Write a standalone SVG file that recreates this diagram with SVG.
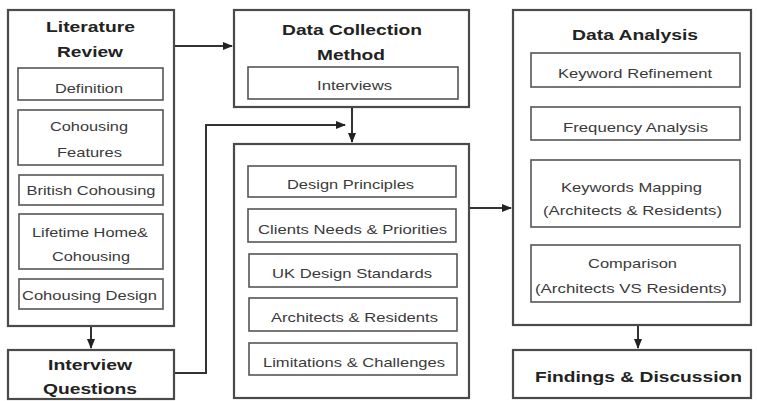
<svg xmlns="http://www.w3.org/2000/svg" width="757" height="401" viewBox="0 0 757 401">
<defs>
<marker id="ah" markerWidth="10" markerHeight="10" refX="9" refY="5" orient="auto" markerUnits="userSpaceOnUse">
<path d="M0,1 L10,5 L0,9 Z" fill="#222"/>
</marker>
</defs>
<style>
.outer{fill:#fff;stroke:#4a4a4a;stroke-width:2.2}
.shadow{fill:none;stroke:#bbb;stroke-width:2}
.inner{fill:#fff;stroke:#555;stroke-width:1.6}
.t{font-family:"Liberation Sans",Arial,sans-serif;font-weight:bold;font-size:15px;fill:#222;text-anchor:middle}
.s{font-family:"Liberation Sans",Arial,sans-serif;font-size:13.5px;fill:#3a3a3a;text-anchor:middle}
.c{fill:none;stroke:#333;stroke-width:2}
</style>
<rect width="757" height="401" fill="#fff"/>
<g id="connectors">
<line class="c" x1="175" y1="46" x2="232" y2="46" marker-end="url(#ah)"/>
<line class="c" x1="91" y1="326" x2="91" y2="348" marker-end="url(#ah)"/>
<polyline class="c" points="175,373 206,373 206,125 345,125" marker-end="url(#ah)"/>
<line class="c" x1="352" y1="108" x2="352" y2="142" marker-end="url(#ah)"/>
<line class="c" x1="470" y1="208" x2="511" y2="208" marker-end="url(#ah)"/>
<line class="c" x1="638" y1="326" x2="638" y2="348" marker-end="url(#ah)"/>
</g>
<g id="literature-review">
<rect class="outer" x="8" y="10" width="166" height="316"/>
<text class="t" x="90.5" y="32" textLength="89" lengthAdjust="spacingAndGlyphs">Literature</text>
<text class="t" x="90" y="57" textLength="66" lengthAdjust="spacingAndGlyphs">Review</text>
<g id="lr-definition"><rect class="inner" x="18" y="68" width="145" height="32"/><text class="s" x="89" y="93" textLength="68" lengthAdjust="spacingAndGlyphs">Definition</text></g>
<g id="lr-features"><rect class="inner" x="18" y="110" width="145" height="55"/><text class="s" x="89" y="131" textLength="78" lengthAdjust="spacingAndGlyphs">Cohousing</text><text class="s" x="89.5" y="157" textLength="65" lengthAdjust="spacingAndGlyphs">Features</text></g>
<g id="lr-british"><rect class="inner" x="19" y="175" width="144" height="30"/><text class="s" x="91" y="195" textLength="129" lengthAdjust="spacingAndGlyphs">British Cohousing</text></g>
<g id="lr-lifetime"><rect class="inner" x="19" y="214" width="144" height="55"/><text class="s" x="90" y="237" textLength="116" lengthAdjust="spacingAndGlyphs">Lifetime Home&amp;</text><text class="s" x="91" y="261" textLength="78" lengthAdjust="spacingAndGlyphs">Cohousing</text></g>
<g id="lr-design"><rect class="inner" x="19" y="279" width="144" height="30"/><text class="s" x="89.5" y="300" textLength="135" lengthAdjust="spacingAndGlyphs">Cohousing Design</text></g>
</g>
<g id="interview-questions">
<rect class="outer" x="8" y="350" width="166" height="49"/>
<text class="t" x="90" y="370" textLength="84" lengthAdjust="spacingAndGlyphs">Interview</text>
<text class="t" x="90" y="394" textLength="94" lengthAdjust="spacingAndGlyphs">Questions</text>
</g>
<g id="data-collection-method">
<rect class="outer" x="234" y="10" width="235" height="97"/>
<text class="t" x="352" y="35" textLength="140" lengthAdjust="spacingAndGlyphs">Data Collection</text>
<text class="t" x="351" y="60" textLength="68" lengthAdjust="spacingAndGlyphs">Method</text>
<g id="dcm-interviews"><rect class="inner" x="248" y="67" width="210" height="32"/><text class="s" x="354.5" y="90" textLength="75" lengthAdjust="spacingAndGlyphs">Interviews</text></g>
</g>
<g id="interview-topics">
<rect class="outer" x="234" y="144" width="235" height="254"/>
<g id="it-principles"><rect class="inner" x="248" y="166" width="208" height="31"/><text class="s" x="350.5" y="189" textLength="127" lengthAdjust="spacingAndGlyphs">Design Principles</text></g>
<g id="it-clients"><rect class="inner" x="248" y="209" width="208" height="33"/><text class="s" x="352.5" y="234" textLength="189" lengthAdjust="spacingAndGlyphs">Clients Needs &amp; Priorities</text></g>
<g id="it-standards"><rect class="inner" x="249" y="254" width="208" height="33"/><text class="s" x="352" y="278" textLength="160" lengthAdjust="spacingAndGlyphs">UK Design Standards</text></g>
<g id="it-architects"><rect class="inner" x="249" y="298" width="208" height="33"/><text class="s" x="354.5" y="322" textLength="167" lengthAdjust="spacingAndGlyphs">Architects &amp; Residents</text></g>
<g id="it-limitations"><rect class="inner" x="249" y="343" width="208" height="32"/><text class="s" x="354" y="367" textLength="182" lengthAdjust="spacingAndGlyphs">Limitations &amp; Challenges</text></g>
</g>
<g id="data-analysis">
<rect class="outer" x="513" y="10" width="238" height="315"/>
<text class="t" x="635" y="40" textLength="126" lengthAdjust="spacingAndGlyphs">Data Analysis</text>
<g id="da-refinement"><rect class="inner" x="531" y="53" width="209" height="34"/><text class="s" x="635" y="78" textLength="154" lengthAdjust="spacingAndGlyphs">Keyword Refinement</text></g>
<g id="da-frequency"><rect class="inner" x="531" y="107" width="209" height="33"/><text class="s" x="635.5" y="132" textLength="145" lengthAdjust="spacingAndGlyphs">Frequency Analysis</text></g>
<g id="da-mapping"><rect class="inner" x="531" y="160" width="209" height="67"/><text class="s" x="631.5" y="192" textLength="141" lengthAdjust="spacingAndGlyphs">Keywords Mapping</text><text class="s" x="632.5" y="215" textLength="179" lengthAdjust="spacingAndGlyphs">(Architects &amp; Residents)</text></g>
<g id="da-comparison"><rect class="inner" x="531" y="245" width="209" height="57"/><text class="s" x="632.5" y="268" textLength="89" lengthAdjust="spacingAndGlyphs">Comparison</text><text class="s" x="631" y="293" textLength="192" lengthAdjust="spacingAndGlyphs">(Architects VS Residents)</text></g>
</g>
<g id="findings-discussion">
<rect class="outer" x="513" y="350" width="238" height="48"/>
<text class="t" x="638.5" y="382" textLength="207" lengthAdjust="spacingAndGlyphs">Findings &amp; Discussion</text>
</g>
</svg>
